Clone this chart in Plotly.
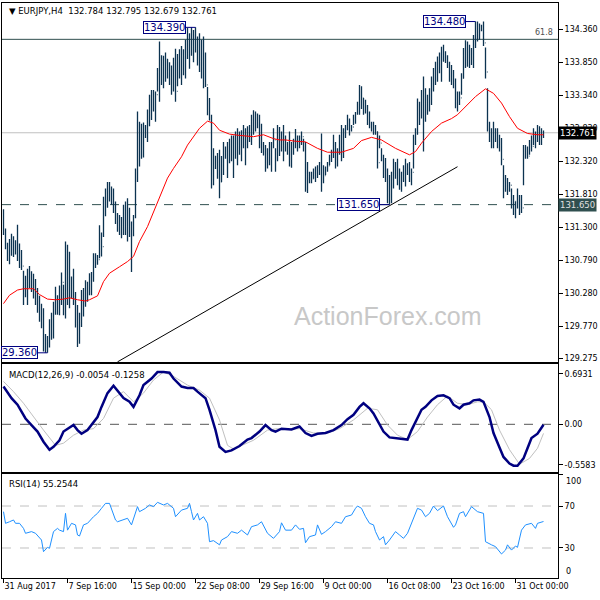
import plotly.graph_objects as go

# ---------------- data ----------------
x_tick_bars = [0, 32, 64, 96, 128, 160, 192, 224, 256]
x_tick_labels = ["31 Aug 2017", "7 Sep 16:00", "15 Sep 00:00", "22 Sep 08:00", "29 Sep 16:00",
                 "9 Oct 00:00", "16 Oct 08:00", "23 Oct 16:00", "31 Oct 00:00"]

price_ticks = [134.360, 133.850, 133.340, 132.830, 132.320, 131.810, 131.300,
               130.790, 130.280, 129.770, 129.275]

bar_high = [
    131.58,131.28,131.06,131.12,131.20,131.16,131.10,131.34,131.05,130.95,
    130.63,130.55,130.66,130.70,130.62,130.58,130.50,130.36,130.24,130.12,
    130.05,129.65,129.62,129.88,129.98,130.15,130.38,130.25,130.40,130.60,
    130.41,131.08,131.03,130.92,130.54,130.66,130.30,130.10,129.98,130.33,
    130.36,130.48,130.46,130.59,130.61,130.90,130.90,130.87,131.33,131.22,
    131.77,131.90,132.00,132.00,131.93,131.90,131.70,131.52,131.49,131.46,
    131.65,131.70,131.75,131.60,131.39,131.49,132.21,133.09,132.93,132.90,
    132.92,132.88,133.12,133.35,133.42,133.42,133.40,133.76,134.17,133.96,
    133.95,134.00,133.90,133.85,133.80,133.92,134.06,133.98,134.05,134.10,
    134.05,134.20,134.38,134.30,134.39,134.35,134.39,134.25,134.30,134.20,
    134.25,134.00,133.47,133.30,133.04,132.52,132.40,132.45,132.50,132.40,
    132.62,132.55,132.62,132.67,132.72,132.72,132.78,132.83,132.78,132.80,
    132.88,132.83,132.86,132.88,133.04,133.11,133.09,133.06,133.04,132.90,
    132.62,132.57,132.52,132.62,132.62,132.83,132.52,132.88,132.85,132.78,
    132.88,132.72,132.62,132.78,132.62,132.67,132.82,132.72,132.72,132.78,
    132.67,132.62,132.31,132.16,132.16,132.21,132.24,132.26,132.31,132.75,
    132.26,132.24,132.31,132.42,132.50,132.73,132.62,132.52,132.73,132.88,
    132.83,132.88,133.04,132.98,132.88,133.04,133.08,133.24,133.50,133.48,
    133.30,133.27,133.19,133.09,132.93,132.93,132.88,132.78,132.72,132.52,
    132.42,132.37,132.21,132.11,132.16,132.36,132.31,132.36,132.21,132.16,
    132.26,132.36,132.29,132.31,132.21,132.73,132.83,133.29,133.24,133.42,
    133.63,133.45,133.35,133.45,133.63,133.76,133.86,133.94,134.00,134.09,
    134.12,134.02,133.96,133.86,133.81,133.73,133.60,133.40,133.40,133.68,
    134.07,134.19,134.17,134.12,134.07,134.27,134.48,134.48,134.45,134.43,
    134.48,134.08,133.45,132.93,132.83,132.93,132.83,132.83,132.73,132.68,
    132.26,132.11,132.06,132.00,131.90,131.80,131.70,131.90,131.80,131.80,
    132.57,132.57,132.55,132.65,132.72,132.83,132.78,132.88,132.86,132.83,132.795,
]
bar_low = [
    131.18,130.96,130.78,130.73,130.86,130.84,130.88,130.78,130.67,130.64,
    130.10,130.22,130.10,130.36,130.30,130.20,130.10,129.98,129.84,129.74,
    129.38,129.36,129.36,129.44,129.56,129.58,129.95,129.95,129.94,130.10,
    129.94,129.89,130.10,130.05,130.20,130.10,129.75,129.45,129.50,129.76,
    129.92,130.07,130.15,130.25,130.25,130.46,130.67,130.72,130.82,130.85,
    131.15,131.47,131.60,131.70,131.65,131.52,131.35,131.23,131.18,131.13,
    131.18,131.18,131.08,131.15,130.61,131.16,131.44,132.00,132.24,132.36,
    132.38,132.68,132.62,132.86,132.96,133.09,132.93,133.40,133.24,133.50,
    133.45,133.55,133.60,133.50,133.35,133.40,133.24,133.48,133.60,133.50,
    133.65,133.60,133.90,133.75,133.95,133.85,134.00,133.80,133.70,133.60,
    133.45,133.47,133.03,132.95,131.90,131.95,132.20,132.05,131.75,132.00,
    132.11,132.36,132.06,132.29,132.32,132.06,132.36,132.26,132.42,132.32,
    132.52,132.26,132.52,132.62,132.57,132.73,132.78,132.83,132.52,132.45,
    132.41,132.16,132.21,132.26,132.16,132.52,132.16,132.32,132.40,132.47,
    132.32,132.47,132.42,132.24,132.22,132.42,132.52,132.47,132.52,132.57,
    132.47,131.85,131.83,131.98,131.98,132.05,132.00,132.06,132.11,131.85,
    131.98,132.11,132.16,132.26,132.31,132.37,132.21,132.24,132.42,132.32,
    132.37,132.68,132.80,132.72,132.78,132.88,132.90,133.04,133.04,133.13,
    133.04,133.06,132.88,132.83,132.78,132.73,132.73,132.21,132.52,132.32,
    132.06,132.00,131.67,131.65,131.67,131.90,132.05,131.95,131.88,131.85,
    132.00,131.93,132.11,132.00,131.95,132.21,132.57,132.73,132.88,132.98,
    132.47,132.93,133.04,133.09,133.19,133.40,133.50,133.55,133.68,133.55,
    133.86,133.84,133.76,133.55,133.50,133.45,133.14,133.09,133.19,133.35,
    133.60,133.76,133.78,133.76,133.81,133.76,134.07,134.17,134.20,134.33,
    134.10,133.60,132.78,132.62,132.52,132.52,132.62,132.52,132.47,132.26,
    131.75,131.85,131.80,131.85,131.59,131.49,131.44,131.59,131.49,131.52,
    131.95,132.36,132.36,132.42,132.47,132.57,132.52,132.62,132.57,132.57,132.679,
]
bar_close = [
    131.25,131.05,130.95,131.05,131.10,130.92,131.02,130.95,130.78,130.70,
    130.30,130.45,130.55,130.50,130.38,130.28,130.18,130.08,129.95,129.85,
    129.50,129.46,129.55,129.80,129.90,130.05,130.20,130.10,130.35,130.45,
    130.30,130.90,130.55,130.40,130.35,130.25,129.80,129.60,129.85,130.20,
    130.30,130.40,130.35,130.55,130.50,130.85,130.78,130.80,131.20,131.00,
    131.65,131.80,131.88,131.90,131.72,131.58,131.40,131.30,131.35,131.30,
    131.55,131.30,131.20,131.30,131.30,131.45,132.15,132.90,132.50,132.80,
    132.75,132.80,133.05,133.20,133.30,133.30,133.35,133.70,133.80,133.85,
    133.80,133.90,133.70,133.60,133.50,133.85,133.40,133.90,133.95,133.70,
    133.95,134.15,134.00,134.20,134.10,134.30,134.05,133.95,133.85,133.80,
    133.50,133.50,133.10,133.00,132.00,132.40,132.25,132.30,132.00,132.30,
    132.50,132.45,132.55,132.60,132.65,132.40,132.70,132.55,132.70,132.60,
    132.75,132.70,132.80,132.85,132.95,132.90,133.00,132.95,132.70,132.60,
    132.50,132.30,132.40,132.45,132.55,132.65,132.40,132.75,132.60,132.55,
    132.60,132.55,132.50,132.40,132.50,132.60,132.70,132.60,132.65,132.70,
    132.55,132.10,132.00,132.10,132.05,132.15,132.10,132.20,132.15,132.10,
    132.10,132.20,132.25,132.40,132.45,132.50,132.35,132.45,132.65,132.55,
    132.75,132.85,132.95,132.85,132.85,133.00,133.05,133.20,133.40,133.30,
    133.10,133.15,132.95,132.90,132.85,132.80,132.78,132.30,132.60,132.40,
    132.20,132.05,131.85,131.75,132.00,132.10,132.15,132.05,131.95,132.05,
    132.10,132.25,132.20,132.10,132.15,132.65,132.75,133.20,133.00,133.30,
    133.20,133.25,133.20,133.40,133.55,133.65,133.75,133.85,133.90,133.95,
    134.00,133.90,133.80,133.65,133.60,133.55,133.25,133.30,133.30,133.60,
    133.95,134.10,134.00,134.05,133.95,134.20,134.30,134.40,134.35,134.38,
    134.15,133.70,132.90,132.75,132.60,132.80,132.70,132.60,132.55,132.35,
    131.90,131.95,131.90,131.95,131.65,131.60,131.70,131.65,131.75,131.60,
    132.45,132.50,132.40,132.60,132.55,132.75,132.65,132.80,132.70,132.784,132.761,
]
first_open = 131.30

# moving average (red line), (bar, value)
ma_points = [(0,130.12),(3,130.25),(7,130.33),(10,130.35),(15,130.35),(18,130.26),(22,130.19),
    (26,130.18),(30,130.19),(33,130.21),(37,130.18),(41,130.16),(43,130.18),(47,130.24),
    (50,130.46),(53,130.59),(58,130.69),(62,130.77),(65,130.85),(68,131.08),(72,131.31),
    (75,131.54),(78,131.77),(82,132.06),(85,132.21),(89,132.39),(92,132.57),(96,132.75),
    (98,132.83),(102,132.94),(105,132.91),(108,132.80),(113,132.74),(118,132.72),(125,132.70),
    (130,132.73),(135,132.67),(138,132.65),(141,132.65),(146,132.63),(151,132.62),(157,132.52),
    (162,132.46),(169,132.46),(175,132.52),(179,132.64),(184,132.69),(189,132.65),(196,132.52),
    (203,132.42),(206,132.47),(209,132.60),(214,132.78),(219,132.91),(224,132.98),(227,133.04),
    (232,133.19),(236,133.32),(241,133.44),(245,133.37),(249,133.22),(253,133.01),(257,132.83),
    (262,132.75),(267,132.73),(270,132.73)]

macd_points = [(0,0.52),(4,0.36),(7,0.27),(11,0.08),(14,-0.01),(17,-0.10),(20,-0.24),(23,-0.35),
    (25,-0.31),(28,-0.22),(30,-0.10),(32,-0.06),(35,-0.01),(37,-0.08),(39,-0.13),(42,-0.08),
    (44,-0.01),(47,0.10),(49,0.24),(52,0.43),(55,0.53),(58,0.43),(60,0.36),(63,0.31),(65,0.24),
    (68,0.40),(70,0.54),(74,0.63),(77,0.72),(80,0.72),(83,0.71),(85,0.63),(89,0.52),(92,0.50),
    (95,0.50),(97,0.45),(101,0.36),(103,0.20),(106,-0.08),(108,-0.31),(111,-0.38),(114,-0.36),
    (118,-0.30),(122,-0.21),(124,-0.19),(128,-0.10),(131,-0.01),(134,-0.08),(136,-0.10),
    (139,-0.06),(144,-0.07),(148,-0.03),(151,-0.12),(154,-0.16),(157,-0.13),(161,-0.12),
    (165,-0.08),(169,-0.01),(172,0.07),(175,0.13),(178,0.24),(180,0.29),(183,0.22),(185,0.15),
    (188,0.01),(190,-0.10),(193,-0.18),(196,-0.19),(199,-0.21),(202,-0.21),(204,-0.08),
    (207,0.08),(209,0.20),(211,0.24),(214,0.33),(217,0.39),(220,0.40),(223,0.36),(225,0.27),
    (228,0.22),(230,0.27),(233,0.29),(235,0.33),(238,0.34),(240,0.31),(243,0.10),(245,-0.12),
    (248,-0.32),(250,-0.45),(253,-0.54),(255,-0.57),(257,-0.57),(260,-0.47),(262,-0.33),
    (264,-0.19),(267,-0.13),(270,-0.0054)]

signal_points = [(0,0.59),(5,0.45),(10,0.29),(15,0.10),(20,-0.08),(26,-0.29),(30,-0.26),
    (35,-0.15),(40,-0.08),(45,-0.06),(50,0.08),(55,0.36),(60,0.45),(65,0.31),(70,0.43),
    (75,0.61),(80,0.72),(85,0.66),(92,0.54),(98,0.47),(103,0.36),(108,0.06),(112,-0.29),
    (115,-0.34),(120,-0.28),(125,-0.22),(132,-0.08),(137,-0.06),(143,-0.07),(148,-0.06),
    (155,-0.12),(162,-0.12),(168,-0.06),(175,0.06),(182,0.22),(187,0.20),(192,-0.01),
    (197,-0.15),(202,-0.21),(207,-0.10),(212,0.10),(217,0.27),(222,0.39),(227,0.29),
    (232,0.27),(237,0.31),(240,0.31),(244,0.20),(248,-0.08),(253,-0.35),(258,-0.55),
    (263,-0.47),(267,-0.33),(270,-0.1258)]

rsi_points = [(0,64.6),(1,53.5),(3,55),(5,56.7),(6,53.5),(8,53.5),(10,48.7),(11,44),(14,45.6),
    (16,44),(19,37.6),(20,26.5),(22,30.6),(23,29.7),(25,45.6),(27,48.7),(28,47),(30,45.6),
    (31,63),(32,47),(34,53.5),(36,52),(37,42.4),(38,41.4),(40,52),(42,53.5),(45,59.8),(47,63),
    (49,67.8),(51,72.5),(53,72.5),(54,67.8),(56,56.7),(57,55),(60,56.7),(62,58.3),(64,52),
    (66,63),(67,69.4),(68,64.6),(71,67.8),(73,71),(75,69.4),(77,73.5),(80,71),(82,72.5),
    (85,67.8),(86,59.8),(89,66.1),(92,67.8),(93,72.5),(94,64.6),(95,56.7),(97,63),(98,56.7),
    (100,59.8),(102,53.5),(103,36),(105,37),(108,33),(109,37.6),(112,40.8),(114,45.6),(117,44),
    (119,47),(122,42.4),(124,50.3),(127,52),(129,55),(132,44),(135,39.2),(138,45.6),(139,54),
    (141,47),(144,47),(146,52),(148,47.8),(150,48.7),(151,35),(153,40.8),(156,42.4),(157,52),
    (159,43),(161,45.6),(164,50.3),(166,55),(169,53.5),(171,59.8),(174,61.4),(176,67.8),
    (177,70),(179,67.8),(181,59.8),(183,53.5),(185,52),(186,45.6),(188,37.6),(190,40.8),
    (191,33),(193,37.6),(196,45.6),(198,42.4),(200,39.2),(202,44),(204,53.5),(206,64.6),
    (207,67.8),(209,66.1),(211,59.8),(213,63),(215,70),(217,65.6),(220,70),(222,59.8),
    (225,49.7),(226,52),(228,63),(230,64.6),(231,59.8),(234,69.4),(236,66.1),(237,64.6),
    (240,63),(241,36),(244,33),(246,31.3),(249,24.3),(251,28),(252,33),(254,28),(256,31.9),
    (257,30.6),(259,47),(261,52),(264,53.5),(266,48.7),(267,53.5),(270,55.25)]

trend_bars = [57, 227]
trend_prices = [129.22, 132.236]

level_fibo = 134.205
level_current = 132.761
level_support = 131.650

swing_labels = [("134.390", 134.390, 96), ("134.480", 134.480, 236),
                ("131.650", 131.650, 193), ("29.360", 129.360, 22)]

macd_last, signal_last, rsi_last = -0.0054, -0.1258, 55.2544

# ---------------- figure ----------------
bar_index = list(range(len(bar_close)))
bar_open = [first_open] + bar_close[:-1]

FONT = "DejaVu Sans"
BAR_COL = "#0c3350"
W, H = 600, 600
ML, MR, MT, MB = 2, 42, 3, 22
PW, PH = W - ML - MR, H - MT - MB


def px_x(p):
    return (p - ML) / PW


def px_y(p):
    return (H - MB - p) / PH


fig = go.Figure()

fig.add_trace(go.Ohlc(x=bar_index, open=bar_open, high=bar_high, low=bar_low, close=bar_close,
                      increasing=dict(line=dict(color=BAR_COL, width=1.3)),
                      decreasing=dict(line=dict(color=BAR_COL, width=1.3)),
                      tickwidth=0.3, xaxis="x", yaxis="y", hoverinfo="skip"))

fig.add_trace(go.Scatter(x=[p[0] for p in ma_points], y=[p[1] for p in ma_points], mode="lines",
                         line=dict(color="#ff0000", width=1), xaxis="x", yaxis="y", hoverinfo="skip"))

fig.add_trace(go.Scatter(x=trend_bars, y=trend_prices, mode="lines",
                         line=dict(color="black", width=1), xaxis="x", yaxis="y", hoverinfo="skip"))

fig.add_trace(go.Scatter(x=[p[0] for p in signal_points], y=[p[1] for p in signal_points],
                         mode="lines", line=dict(color="#c0c0c0", width=1),
                         xaxis="x2", yaxis="y2", hoverinfo="skip"))
fig.add_trace(go.Scatter(x=[p[0] for p in macd_points], y=[p[1] for p in macd_points],
                         mode="lines", line=dict(color="#000080", width=2.5),
                         xaxis="x2", yaxis="y2", hoverinfo="skip"))

fig.add_trace(go.Scatter(x=[p[0] for p in rsi_points], y=[p[1] for p in rsi_points],
                         mode="lines", line=dict(color="#1e90ff", width=1),
                         xaxis="x3", yaxis="y3", hoverinfo="skip"))

shapes = [
    dict(type="line", xref="x domain", x0=0, x1=1, yref="y", y0=level_fibo, y1=level_fibo,
         line=dict(color="#2f4f4f", width=1), layer="below"),
    dict(type="line", xref="x domain", x0=0, x1=1, yref="y", y0=level_current, y1=level_current,
         line=dict(color="#c0c0c0", width=1), layer="below"),
    dict(type="line", xref="x domain", x0=0, x1=1, yref="y", y0=level_support, y1=level_support,
         line=dict(color="#2f4f4f", width=1, dash="dash"), layer="below"),
    dict(type="line", xref="x2 domain", x0=0, x1=1, yref="y2", y0=0, y1=0,
         line=dict(color="#555555", width=1, dash="dash"), layer="below"),
    dict(type="line", xref="x3 domain", x0=0, x1=1, yref="y3", y0=70, y1=70,
         line=dict(color="#c0c0c0", width=1, dash="dash"), layer="below"),
    dict(type="line", xref="x3 domain", x0=0, x1=1, yref="y3", y0=30, y1=30,
         line=dict(color="#c0c0c0", width=1, dash="dash"), layer="below"),
]

annotations = []
for text, price, bar in swing_labels:
    shapes.append(dict(type="line", xref="x", yref="y", x0=bar - 5, x1=bar, y0=price, y1=price,
                       line=dict(color="#000080", width=1)))
    annotations.append(dict(x=bar - 5, y=price, xref="x", yref="y", text=text, showarrow=False,
                            xanchor="right", yanchor="middle",
                            font=dict(family=FONT, size=10, color="#000080"),
                            bgcolor="white", bordercolor="#000080", borderwidth=1, borderpad=0))

annotations += [
    dict(x=px_x(7), y=px_y(11), xref="paper", yref="paper", xanchor="left", yanchor="middle",
         showarrow=False, text="\u25BC EURJPY,H4&nbsp; 132.784 132.795 132.679 132.761",
         font=dict(family=FONT, size=8.5, color="black")),
    dict(x=px_x(7), y=px_y(375), xref="paper", yref="paper", xanchor="left", yanchor="middle",
         showarrow=False, text=f"MACD(12,26,9) {macd_last:.4f} {signal_last:.4f}",
         font=dict(family=FONT, size=8.5, color="black")),
    dict(x=px_x(7), y=px_y(484), xref="paper", yref="paper", xanchor="left", yanchor="middle",
         showarrow=False, text=f"RSI(14) {rsi_last:.4f}",
         font=dict(family=FONT, size=8.5, color="black")),
    dict(x=px_x(388), y=px_y(316), xref="paper", yref="paper", xanchor="center", yanchor="middle",
         showarrow=False, text="ActionForex.com",
         font=dict(family="Liberation Sans", size=25, color="#c8c8c8")),
    dict(x=1, y=level_fibo, xref="paper", yref="y", xanchor="right", yanchor="bottom", xshift=-3,
         showarrow=False, text="61.8", font=dict(family=FONT, size=8, color="#505050")),
    dict(x=1, y=level_current, xref="paper", yref="y", xanchor="left", yanchor="middle",
         showarrow=False, text=f"{level_current:.3f}", bgcolor="black", borderpad=1,
         font=dict(family=FONT, size=8.5, color="white")),
    dict(x=1, y=level_support, xref="paper", yref="y", xanchor="left", yanchor="middle",
         showarrow=False, text=f"{level_support:.3f}", bgcolor="#2f4f4f", borderpad=1,
         font=dict(family=FONT, size=8.5, color="#e0e0e0")),
    dict(x=1, y=px_y(481), xref="paper", yref="paper", xanchor="left", yanchor="middle", xshift=6,
         showarrow=False, text="100", font=dict(family=FONT, size=8, color="black")),
    dict(x=1, y=px_y(571), xref="paper", yref="paper", xanchor="left", yanchor="middle", xshift=6,
         showarrow=False, text="0", font=dict(family=FONT, size=8, color="black")),
]

x_range = [-0.75, (PW / 2) - 0.75]
axis_common = dict(showline=True, mirror=True, linecolor="black", linewidth=1,
                   showgrid=False, zeroline=False)

fig.update_layout(
    width=W, height=H, margin=dict(l=ML, r=MR, t=MT, b=MB, autoexpand=False),
    paper_bgcolor="white", plot_bgcolor="white", showlegend=False,
    font=dict(family=FONT, size=8, color="black"),
    shapes=shapes, annotations=annotations,
    xaxis=dict(domain=[0, 1], anchor="y", range=x_range, showticklabels=False, ticks="",
               rangeslider=dict(visible=False), **axis_common),
    xaxis2=dict(domain=[0, 1], anchor="y2", range=x_range, matches="x", showticklabels=False,
                ticks="", **axis_common),
    xaxis3=dict(domain=[0, 1], anchor="y3", range=x_range, matches="x", ticks="outside",
                ticklen=4, tickcolor="black", tickvals=x_tick_bars, ticktext=x_tick_labels,
                ticklabelposition="outside right", tickfont=dict(size=8), **axis_common),
    yaxis=dict(domain=[px_y(362), 1], anchor="x", side="right",
               range=[134.360 - (362 - 29.3) / 64.7, 134.360 + (29.3 - 3) / 64.7],
               tickvals=price_ticks, ticktext=[f"{v:.3f}" for v in price_ticks],
               ticks="outside", ticklen=4, tickcolor="black", tickfont=dict(size=8), **axis_common),
    yaxis2=dict(domain=[px_y(472), px_y(364)], anchor="x2", side="right",
                range=[-(472 - 424.3) / 72.6, (424.3 - 364) / 72.6],
                tickvals=[0.6931, 0.0, -0.5583], ticktext=["0.6931", "0.00", "-0.5583"],
                ticks="outside", ticklen=4, tickcolor="black", tickfont=dict(size=8), **axis_common),
    yaxis3=dict(domain=[0, px_y(474)], anchor="x3", side="right", range=[1.4, 100.5],
                tickvals=[100, 70, 30, 0], ticktext=["", "70", "30", ""], ticks="outside", ticklen=4,
                tickcolor="black", tickfont=dict(size=8), **axis_common),
)

fig.write_html("out.html", config=dict(displayModeBar=False),
               post_script="document.body.style.margin='0';document.body.style.padding='0';")
